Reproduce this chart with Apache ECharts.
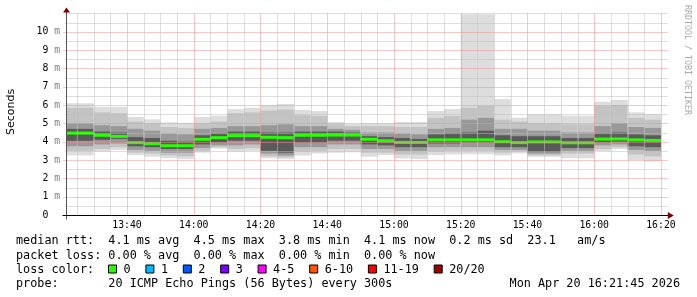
<!DOCTYPE html>
<html><head><meta charset="utf-8">
<script src="https://cdn.jsdelivr.net/npm/echarts@6/dist/echarts.min.js"></script>
<style>html,body{margin:0;padding:0;background:#fff}#c{width:697px;height:297px}</style>
</head><body><div id="c"></div>
<script>
// ---------------- data ----------------
const graphStart = '13:21:45';
const graphEnd = '16:21:45';
const binStarts = ['13:20','13:25','13:30','13:35','13:40','13:45','13:50','13:55',
  '14:00','14:05','14:10','14:15','14:20','14:25','14:30','14:35',
  '14:40','14:45','14:50','14:55','15:00','15:05','15:10','15:15',
  '15:20','15:25','15:30','15:35','15:40','15:45','15:50','15:55',
  '16:00','16:05','16:10','16:15'];
const medianRtt = [4.47,4.47,4.35,4.29,3.95,3.89,3.78,3.78,
  4.13,4.22,4.33,4.33,4.24,4.22,4.35,4.35,
  4.36,4.36,4.13,4.05,3.96,3.96,4.10,4.10,
  4.10,4.10,4.00,3.95,3.99,3.99,3.94,3.94,
  4.14,4.15,4.10,4.07];
// smoke bands (outer -> inner), values in ms
const band1Hi = [6.10,6.10,5.90,5.90,5.35,5.22,5.05,5.03,5.35,5.42,5.78,5.85,6.00,6.05,5.73,5.67,
  5.07,4.96,5.00,5.00,5.07,5.07,5.67,5.78,10.95,10.95,6.33,5.31,5.50,5.50,5.42,5.42,6.18,6.28,5.60,5.50];
const band1Lo = [3.25,3.25,3.45,3.55,3.27,3.18,3.10,3.05,3.40,3.62,3.45,3.50,3.09,3.05,3.24,3.36,
  3.40,3.42,3.18,3.27,3.09,3.05,3.27,3.31,3.31,3.31,3.24,3.36,3.18,3.18,3.10,3.09,3.49,3.60,3.00,2.92];
const band2Hi = [5.85,5.85,5.60,5.55,5.10,5.00,4.80,4.75,5.00,5.10,5.55,5.60,5.70,5.75,5.45,5.40,
  4.95,4.85,4.85,4.85,4.80,4.80,5.30,5.40,5.85,5.96,5.20,5.10,5.00,5.00,4.95,4.95,5.95,6.00,5.30,5.20];
const band2Lo = [3.50,3.50,3.60,3.70,3.40,3.35,3.25,3.20,3.50,3.70,3.60,3.65,3.20,3.15,3.45,3.50,
  3.60,3.60,3.40,3.40,3.30,3.30,3.45,3.50,3.50,3.50,3.40,3.45,3.25,3.25,3.35,3.35,3.60,3.70,3.30,3.20];
const band3Hi = [5.00,5.00,4.90,4.85,4.70,4.60,4.45,4.40,4.70,4.75,4.85,4.85,4.90,4.95,4.85,4.85,
  4.70,4.65,4.50,4.50,4.45,4.40,4.70,4.75,5.20,5.30,4.70,4.70,4.60,4.60,4.50,4.50,4.85,5.00,4.80,4.75];
const band3Lo = [3.75,3.75,3.85,3.90,3.55,3.50,3.40,3.40,3.65,3.80,3.80,3.85,3.35,3.25,3.70,3.70,
  3.85,3.85,3.60,3.60,3.50,3.50,3.70,3.70,3.70,3.70,3.55,3.55,3.35,3.35,3.50,3.50,3.80,3.85,3.55,3.50];
const band4Hi = [4.70,4.70,4.55,4.50,4.25,4.20,4.05,4.00,4.35,4.45,4.55,4.55,4.50,4.50,4.55,4.55,
  4.55,4.50,4.30,4.25,4.20,4.15,4.40,4.45,4.50,4.60,4.35,4.30,4.30,4.30,4.20,4.20,4.45,4.50,4.40,4.35];
const band4Lo = [4.05,4.05,4.10,4.15,3.75,3.70,3.60,3.60,3.85,3.95,4.05,4.05,3.50,3.40,3.95,3.95,
  4.05,4.05,3.85,3.80,3.70,3.70,3.90,3.90,3.95,3.95,3.70,3.70,3.45,3.45,3.65,3.65,3.95,4.00,3.75,3.70];
const xTickLabels = ['13:40','14:00','14:20','14:40','15:00','15:20','15:40','16:00','16:20'];
const yMax = 11;
const legendLines = [
  'median rtt:  4.1 ms avg  4.5 ms max  3.8 ms min  4.1 ms now  0.2 ms sd  23.1   am/s',
  'packet loss: 0.00 % avg  0.00 % max  0.00 % min  0.00 % now',
  'loss color:',
  'probe:       20 ICMP Echo Pings (56 Bytes) every 300s'
];
const dateStamp = 'Mon Apr 20 16:21:45 2026';
const lossLabels = ['0','1','2','3','4-5','6-10','11-19','20/20'];
const lossColors = ['#26ff00','#00b8ff','#0059ff','#7e00ff','#ff00ff','#ff5500','#ff0000','#a00000'];

// ---------------- helpers ----------------
const toMin = s => { const p = s.split(':').map(Number); return p[0]*60 + p[1] + (p[2]||0)/60; };
const xMin = toMin(graphStart), xMax = toMin(graphEnd);
const bandColors = ['#dddddd','#c3c3c3','#989898','#5a5a5a'];
const medianColor = '#26ff00';
const MONO = "'DejaVu Sans Mono', monospace";

const rows = binStarts.map((s, i) => [toMin(s), toMin(s) + 5,
  band1Lo[i], band1Hi[i], band2Lo[i], band2Hi[i], band3Lo[i], band3Hi[i], band4Lo[i], band4Hi[i], medianRtt[i]]);

function renderBin(params, api) {
  const x0 = api.value(0), x1 = api.value(1);
  const cs = params.coordSys;
  const clip = { x: cs.x, y: cs.y, width: cs.width, height: cs.height };
  const children = [];
  for (let k = 0; k < 4; k++) {
    const lo = api.value(2 + 2 * k), hi = api.value(3 + 2 * k);
    const a = api.coord([x0, hi]), b = api.coord([x1, lo]);
    const r = echarts.graphic.clipRectByRect({ x: a[0], y: a[1], width: b[0] - a[0], height: b[1] - a[1] }, clip);
    if (r) children.push({ type: 'rect', shape: r, style: { fill: bandColors[k] } });
  }
  const m = api.value(10);
  const a = api.coord([x0, m]), b = api.coord([x1, m]);
  const r = echarts.graphic.clipRectByRect({ x: a[0], y: a[1] - 1.5, width: b[0] - a[0], height: 3 }, clip);
  if (r) children.push({ type: 'rect', shape: r, style: { fill: medianColor }, z2: 10 });
  return { type: 'group', children };
}

const chart = echarts.init(document.getElementById('c'), null, { renderer: 'canvas', width: 697, height: 297 });
const majorX = xTickLabels.map(toMin);
chart.setOption({
  animation: false,
  backgroundColor: '#ffffff',
  grid: { left: 66.1, right: 30.2, top: 13.4, bottom: 82, containLabel: false },
  xAxis: {
    type: 'value', min: xMin, max: xMax,
    axisLine: { show: false }, axisTick: { show: false }, splitLine: { show: false },
    axisLabel: {
      customValues: majorX, margin: 5, color: '#000', fontFamily: MONO, fontSize: 9.8,
      formatter: v => { const h = Math.floor(v / 60), m = Math.round(v - h * 60); return h + ':' + String(m).padStart(2, '0'); }
    }
  },
  yAxis: {
    type: 'value', min: 0, max: yMax, interval: 1,
    axisLine: { show: false }, axisTick: { show: false }, splitLine: { show: false },
    axisLabel: {
      margin: 6, color: '#000', fontFamily: MONO, fontSize: 9.8,
      formatter: v => v === 0 ? '{n|0  }' : (v >= yMax ? '' : '{n|' + v + ' }{u|m}'),
      rich: {
        n: { fontFamily: MONO, fontSize: 9.8, color: '#000' },
        u: { fontFamily: MONO, fontSize: 9.8, color: '#808080' }
      }
    }
  },
  series: [
    { type: 'custom', renderItem: renderBin, data: rows, encode: { x: [0, 1], y: [2, 3] }, z: 2, silent: true }
  ]
});

// grid lines (crisp dotted, drawn over the smoke like rrdtool), axes, title, legend
const P = (x, y) => chart.convertToPixel({ gridIndex: 0 }, [x, y]);
const O = P(xMin, 0);
const E = P(xMax, yMax);
const ax = Math.round(O[0]) + 0.5, ay = Math.round(O[1]) + 0.5;
const minorCol = '#bdbdbd', majorCol = '#f09090';
const g = [];
for (let t = Math.ceil(xMin / 5) * 5; t <= xMax; t += 5) {
  const isMajor = majorX.some(v => Math.abs(v - t) < 1e-6);
  const px = Math.round(P(t, 0)[0]) + 0.5;
  g.push({ type: 'line', silent: true, z: 50, shape: { x1: px, y1: ay - 1, x2: px, y2: Math.round(E[1]) },
    style: { stroke: isMajor ? majorCol : minorCol, lineWidth: 1, lineDash: [1, 1] } });
}
for (let v = 0.5; v <= yMax + 1e-6; v += 0.5) {
  const isMajor = Math.abs(v - Math.round(v)) < 1e-6 && v < yMax;
  const py = Math.round(P(xMin, v)[1]) + 0.5;
  g.push({ type: 'line', silent: true, z: 50, shape: { x1: ax - (isMajor ? 3 : 1), y1: py, x2: Math.round(E[0]) + 1, y2: py },
    style: { stroke: isMajor ? majorCol : minorCol, lineWidth: 1, lineDash: [1, 1] } });
}
g.push({ type: 'line', z: 60, shape: { x1: ax, y1: ay + 4, x2: ax, y2: E[1] - 2 }, style: { stroke: '#555', lineWidth: 1 } });
g.push({ type: 'polygon', z: 60, shape: { points: [[ax - 3.5, E[1] - 1], [ax + 3.5, E[1] - 1], [ax, E[1] - 6]] }, style: { fill: '#800000' } });
g.push({ type: 'line', z: 60, shape: { x1: ax - 4, y1: ay, x2: E[0] + 2, y2: ay }, style: { stroke: '#000', lineWidth: 1 } });
g.push({ type: 'polygon', z: 60, shape: { points: [[E[0] + 1, ay - 3.5], [E[0] + 1, ay + 3.5], [E[0] + 7, ay]] }, style: { fill: '#800000' } });
g.push({ type: 'text', x: 11, y: 112, rotation: Math.PI / 2,
  style: { text: 'Seconds', font: "11px 'DejaVu Sans'", fill: '#000', textAlign: 'center', textVerticalAlign: 'middle' } });
g.push({ type: 'text', x: 687.5, y: 60, rotation: -Math.PI / 2,
  style: { text: 'RRDTOOL / TOBI OETIKER', font: "8.3px " + MONO, fill: '#aaaaaa', textAlign: 'center', textVerticalAlign: 'middle' } });
const lineY = [241, 255.5, 269.5, 284];
const legFont = "11.8px " + MONO;
legendLines.forEach((t, i) => g.push({ type: 'text', x: 16, y: lineY[i],
  style: { text: t, font: legFont, fill: '#000', textAlign: 'left', textVerticalAlign: 'middle' } }));
g.push({ type: 'text', x: 680, y: lineY[3], style: { text: dateStamp, font: legFont, fill: '#000', textAlign: 'right', textVerticalAlign: 'middle' } });
let bx = 108;
lossLabels.forEach((lab, i) => {
  g.push({ type: 'rect', shape: { x: bx + 0.5, y: lineY[2] - 4.5, width: 8, height: 8 }, style: { fill: lossColors[i], stroke: '#000', lineWidth: 1 } });
  g.push({ type: 'text', x: bx + 15.5, y: lineY[2], style: { text: lab, font: legFont, fill: '#000', textAlign: 'left', textVerticalAlign: 'middle' } });
  bx = bx + 15.5 + lab.length * 7.1 + 14.8;
});
chart.setOption({ graphic: g });
</script>
</body></html>
